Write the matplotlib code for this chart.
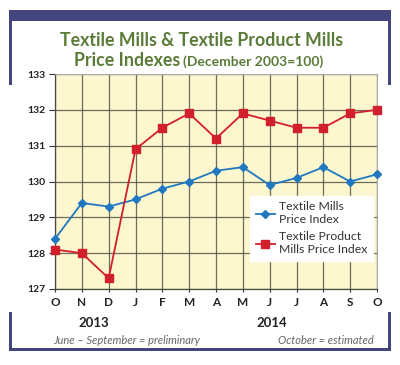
import matplotlib
matplotlib.use("Agg")
import matplotlib.pyplot as plt
from matplotlib.patches import Rectangle

months = ["O", "N", "D", "J", "F", "M", "A", "M", "J", "J", "A", "S", "O"]
textile_mills = [128.4, 129.4, 129.3, 129.5, 129.8, 130.0, 130.3, 130.4, 129.9, 130.1, 130.4, 130.0, 130.2]
textile_product_mills = [128.1, 128.0, 127.3, 130.9, 131.5, 131.9, 131.2, 131.9, 131.7, 131.5, 131.5, 131.9, 132.0]
y_ticks = [127, 128, 129, 130, 131, 132, 133]
years = ["2013", "2014"]

W, H = 400, 365
fig = plt.figure(figsize=(W / 100, H / 100), dpi=100)
fig.patch.set_facecolor("white")

navy = "#42467C"
green = "#5B7B38"
blue = "#1F78C0"
red = "#D11F2B"
dark = "#222222"

# overlay for frame and texts
ov = fig.add_axes([0, 0, 1, 1])
ov.set_xlim(0, W)
ov.set_ylim(H, 0)
ov.axis("off")
ov.add_patch(Rectangle((9, 10), 382, 11, color=navy, lw=0))
ov.add_patch(Rectangle((9, 10), 3, 75, color=navy, lw=0))
ov.add_patch(Rectangle((388, 10), 3, 75, color=navy, lw=0))
ov.add_patch(Rectangle((9, 312), 3, 39, color=navy, lw=0))
ov.add_patch(Rectangle((388, 312), 3, 39, color=navy, lw=0))
ov.add_patch(Rectangle((9, 348), 382, 3, color=navy, lw=0))

tfont = "Lato"
ov.text(202, 40, "Textile Mills & Textile Product Mills", ha="center", va="center",
        fontsize=12.8, fontweight="bold", color=green, family=tfont)
ov.text(180, 61, "Price Indexes", ha="right", va="center",
        fontsize=12.8, fontweight="bold", color=green, family=tfont)
ov.text(183, 62, "(December 2003=100)", ha="left", va="center",
        fontsize=10, fontweight="bold", color=green, family=tfont)

ov.text(94, 323, years[0], ha="center", va="center", fontsize=9.5, fontweight="bold",
        color=dark, family=tfont)
ov.text(272, 323, years[1], ha="center", va="center", fontsize=9.5, fontweight="bold",
        color=dark, family=tfont)
ov.text(53, 340, "June \u2013 September = preliminary", ha="left", va="center", fontsize=8,
        style="italic", color="#666666", family=tfont)
ov.text(374, 340, "October = estimated", ha="right", va="center", fontsize=8,
        style="italic", color="#666666", family=tfont)

ax = fig.add_axes([55 / W, 1 - 289 / H, 322 / W, 215 / H])
ax.set_facecolor("#FCF7CF")
x = list(range(len(months)))
ax.plot(x, textile_mills, color=blue, lw=1.3, marker="D", ms=4, mfc=blue, mec=blue,
        label="Textile Mills\nPrice Index", zorder=3, clip_on=False)
ax.plot(x, textile_product_mills, color=red, lw=1.3, marker="s", ms=6, mfc=red, mec=red,
        label="Textile Product\nMills Price Index", zorder=3, clip_on=False)
ax.set_xlim(0, len(months) - 1)
ax.set_ylim(127, 133)
ax.set_yticks(y_ticks)
ax.set_xticks(x)
ax.set_xticklabels(months)
ax.grid(True, color="#4A4A40", lw=0.9, alpha=0.8)
ax.set_axisbelow(True)
for s in ["top", "right"]:
    ax.spines[s].set_color("#AAAAAA")
    ax.spines[s].set_linewidth(0.8)
for s in ["left", "bottom"]:
    ax.spines[s].set_color("#4A4A40")
    ax.spines[s].set_linewidth(0.9)
ax.tick_params(axis="y", length=4, color="#333333", pad=3, labelsize=7.5, labelcolor=dark)
ax.tick_params(axis="x", length=2, color="#333333", pad=4, labelsize=8.5, labelcolor=dark)
for lab in ax.get_xticklabels() + ax.get_yticklabels():
    lab.set_fontweight("bold")
    lab.set_family(tfont)

leg = ax.legend(loc="upper left", bbox_to_anchor=((250 - 55) / 322, (289 - 196) / 215),
                frameon=True, fancybox=False, framealpha=1, edgecolor="white",
                facecolor="white", prop={"family": tfont, "size": 8.8},
                handlelength=1.6, labelspacing=0.5, borderpad=0.45, handletextpad=0.35,
                borderaxespad=0)
for t in leg.get_texts():
    t.set_color("#333333")

fig.savefig("out.png", dpi=100, facecolor="white")
